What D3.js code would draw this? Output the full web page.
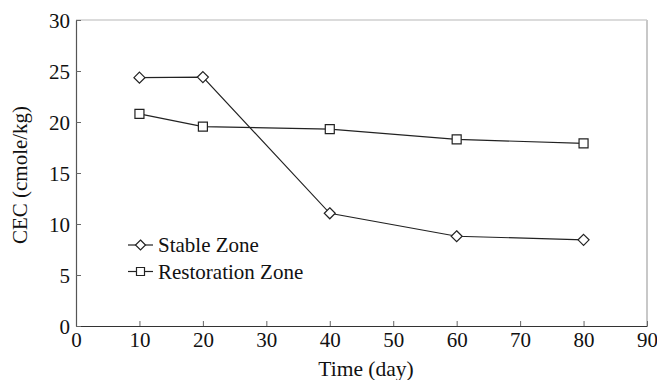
<!DOCTYPE html>
<html>
<head>
<meta charset="utf-8">
<script src="https://cdn.jsdelivr.net/npm/d3@7"></script>
<style>
  html, body { margin: 0; padding: 0; background: #fff; }
  svg { display: block; }
  svg text { font-family: "Liberation Serif", "DejaVu Serif", serif !important; }
</style>
</head>
<body>
<svg id="chart" width="657" height="380"></svg>
<script>
// Sampling days and CEC measurements for the two zones
const days = [10, 20, 40, 60, 80];
const stableZone = [24.35, 24.4, 11.05, 8.8, 8.45];
const restorationZone = [20.8, 19.55, 19.3, 18.3, 17.9];
const seriesNames = ["Stable Zone", "Restoration Zone"];
const xTicks = [0, 10, 20, 30, 40, 50, 60, 70, 80, 90];
const yTicks = [0, 5, 10, 15, 20, 25, 30];

const svg = d3.select("#chart");

const x = d3.scaleLinear().domain([0, 90]).range([76, 647]);
const y = d3.scaleLinear().domain([0, 30]).range([326, 20]);

// Frame: light top and right edges
svg.append("line").attr("x1", x(0)).attr("x2", x(90)).attr("y1", y(30)).attr("y2", y(30))
  .attr("stroke", "#b8b8b8").attr("stroke-width", 1.2);
svg.append("line").attr("x1", x(90)).attr("x2", x(90)).attr("y1", y(30)).attr("y2", y(0))
  .attr("stroke", "#c8c8c8").attr("stroke-width", 2);

// Bottom axis with inward ticks
const xAxis = svg.append("g").attr("transform", `translate(0,${y(0)})`)
  .call(d3.axisBottom(x).tickValues(xTicks).tickSize(-5).tickSizeOuter(0).tickPadding(6));
// Left axis with inward ticks
const yAxis = svg.append("g").attr("transform", `translate(${x(0)},0)`)
  .call(d3.axisLeft(y).tickValues(yTicks).tickSize(-5).tickSizeOuter(0).tickPadding(6));

[xAxis, yAxis].forEach(g => {
  g.attr("font-family", null).attr("font-size", 21);
  g.select(".domain").attr("stroke", "#555").attr("stroke-width", 1.2);
  g.selectAll(".tick line").attr("stroke", "#666");
  g.selectAll(".tick text").attr("fill", "#111").style("font-size", "21px");
});
xAxis.select(".domain").attr("stroke", "#333");
yAxis.selectAll(".tick text").attr("dy", "0.35em");

// Axis titles
svg.append("text").attr("x", 366).attr("y", 376)
  .attr("text-anchor", "middle").attr("font-size", 21.5).attr("fill", "#111")
  .text("Time (day)");
svg.append("text").attr("transform", `translate(27,175) rotate(-90)`)
  .attr("text-anchor", "middle").attr("font-size", 21).attr("fill", "#111")
  .text("CEC (cmole/kg)");

function diamondPath(cx, cy, r) {
  return `M${cx},${cy - r}L${cx + r},${cy}L${cx},${cy + r}L${cx - r},${cy}Z`;
}
function squarePath(cx, cy, r) {
  return `M${cx - r},${cy - r}H${cx + r}V${cy + r}H${cx - r}Z`;
}

const line = d3.line().x(d => x(d[0])).y(d => y(d[1]));
const series = [
  { name: seriesNames[0], values: stableZone, marker: diamondPath, r: 5.5 },
  { name: seriesNames[1], values: restorationZone, marker: squarePath, r: 4.5 }
];

series.forEach(s => {
  const pts = days.map((d, i) => [d, s.values[i]]);
  svg.append("path").datum(pts).attr("d", line)
    .attr("fill", "none").attr("stroke", "#222").attr("stroke-width", 1.2);
  svg.append("g").selectAll("path").data(pts).join("path")
    .attr("d", d => s.marker(x(d[0]), y(d[1]), s.r))
    .attr("fill", "#fff").attr("stroke", "#222").attr("stroke-width", 1.2);
});

// Legend
const legend = svg.append("g");
series.forEach((s, i) => {
  const ly = 245 + i * 26.5;
  legend.append("line").attr("x1", 128).attr("x2", 153).attr("y1", ly).attr("y2", ly)
    .attr("stroke", "#222").attr("stroke-width", 1.2);
  legend.append("path").attr("d", s.marker(140.5, ly, s.r - 0.5))
    .attr("fill", "#fff").attr("stroke", "#222").attr("stroke-width", 1.2);
  legend.append("text").attr("x", 158).attr("y", ly).attr("dy", "0.35em")
    .attr("font-size", 21).attr("fill", "#111").text(s.name);
});
</script>
</body>
</html>
